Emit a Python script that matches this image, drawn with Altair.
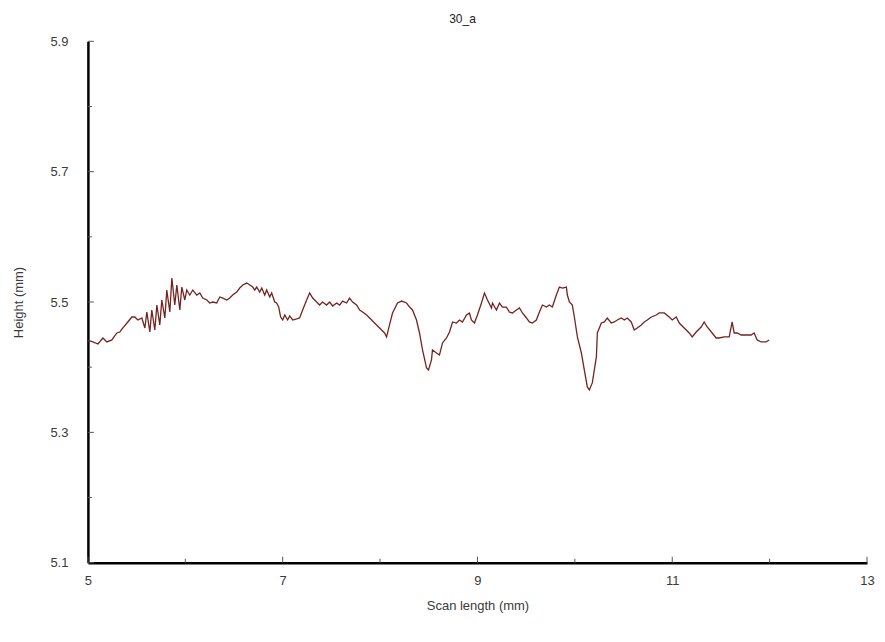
import altair as alt
import pandas as pd

scan_mm = [
    5.000, 5.021, 5.051, 5.103, 5.154, 5.195, 5.246, 5.297, 5.328, 5.359,
    5.410, 5.451, 5.482, 5.513, 5.554, 5.585, 5.605, 5.636, 5.656, 5.687,
    5.708, 5.738, 5.759, 5.790, 5.810, 5.841, 5.862, 5.892, 5.913, 5.944,
    5.964, 5.995, 6.015, 6.046, 6.077, 6.118, 6.149, 6.179, 6.221, 6.251,
    6.282, 6.323, 6.354, 6.385, 6.426, 6.456, 6.487, 6.528, 6.559, 6.590,
    6.631, 6.662, 6.692, 6.713, 6.733, 6.764, 6.785, 6.815, 6.836, 6.867,
    6.887, 6.918, 6.938, 6.959, 6.979, 7.000, 7.021, 7.051, 7.072, 7.103,
    7.144, 7.174, 7.205, 7.246, 7.277, 7.308, 7.349, 7.379, 7.410, 7.451,
    7.482, 7.513, 7.554, 7.585, 7.615, 7.656, 7.687, 7.718, 7.759, 7.790,
    7.821, 7.862, 7.913, 7.944, 7.995, 8.046, 8.067, 8.097, 8.128, 8.179,
    8.221, 8.272, 8.303, 8.333, 8.374, 8.405, 8.436, 8.477, 8.497, 8.528,
    8.538, 8.579, 8.610, 8.641, 8.682, 8.713, 8.744, 8.785, 8.815, 8.846,
    8.887, 8.918, 8.938, 8.969, 9.000, 9.041, 9.072, 9.103, 9.144, 9.154,
    9.195, 9.226, 9.256, 9.297, 9.328, 9.359, 9.400, 9.431, 9.462, 9.503,
    9.533, 9.564, 9.605, 9.636, 9.667, 9.708, 9.738, 9.769, 9.810, 9.841,
    9.872, 9.913, 9.923, 9.944, 9.974, 9.995, 10.026, 10.067, 10.097, 10.128,
    10.149, 10.179, 10.221, 10.231, 10.272, 10.303, 10.333, 10.374, 10.405, 10.436,
    10.477, 10.508, 10.538, 10.579, 10.610, 10.641, 10.682, 10.713, 10.744, 10.785,
    10.836, 10.867, 10.918, 10.969, 11.000, 11.041, 11.072, 11.123, 11.174, 11.205,
    11.246, 11.297, 11.328, 11.359, 11.410, 11.451, 11.482, 11.533, 11.585, 11.615,
    11.636, 11.667, 11.708, 11.759, 11.810, 11.841, 11.872, 11.913, 11.964, 11.995,
]

height_mm = [
    5.4402, 5.4402, 5.4387, 5.4356, 5.4448, 5.4387, 5.4418, 5.4525, 5.4540, 5.4602,
    5.4694, 5.4770, 5.4770, 5.4724, 5.4755, 5.4602, 5.4847, 5.4540, 5.4878, 5.4571,
    5.4954, 5.4648, 5.5031, 5.4755, 5.5184, 5.4847, 5.5368, 5.4954, 5.5261, 5.4878,
    5.5230, 5.5031, 5.5184, 5.5107, 5.5184, 5.5107, 5.5138, 5.5061, 5.5031, 5.4985,
    5.5000, 5.4985, 5.5077, 5.5061, 5.5031, 5.5061, 5.5107, 5.5153, 5.5215, 5.5261,
    5.5291, 5.5261, 5.5230, 5.5184, 5.5230, 5.5153, 5.5215, 5.5107, 5.5184, 5.5077,
    5.5138, 5.5000, 5.4985, 5.4923, 5.4770, 5.4724, 5.4801, 5.4724, 5.4786, 5.4724,
    5.4740, 5.4755, 5.4878, 5.5031, 5.5138, 5.5061, 5.5000, 5.4954, 5.5000, 5.4954,
    5.5000, 5.4939, 5.4985, 5.4954, 5.5015, 5.4985, 5.5061, 5.5000, 5.4954, 5.4878,
    5.4847, 5.4801, 5.4724, 5.4678, 5.4602, 5.4525, 5.4464, 5.4648, 5.4832, 5.4985,
    5.5015, 5.4985, 5.4923, 5.4878, 5.4724, 5.4525, 5.4264, 5.3989, 5.3958, 5.4111,
    5.4264, 5.4218, 5.4188, 5.4372, 5.4448, 5.4540, 5.4694, 5.4678, 5.4724, 5.4694,
    5.4801, 5.4832, 5.4724, 5.4678, 5.4801, 5.4985, 5.5138, 5.5031, 5.4908, 5.4985,
    5.4878, 5.4985, 5.4923, 5.4923, 5.4847, 5.4832, 5.4878, 5.4908, 5.4832, 5.4755,
    5.4694, 5.4678, 5.4724, 5.4847, 5.4954, 5.4923, 5.4954, 5.4923, 5.5107, 5.5230,
    5.5215, 5.5230, 5.5107, 5.5000, 5.4954, 5.4770, 5.4464, 5.4218, 5.3958, 5.3697,
    5.3651, 5.3759, 5.4157, 5.4525, 5.4678, 5.4694, 5.4755, 5.4678, 5.4694, 5.4724,
    5.4755, 5.4724, 5.4755, 5.4694, 5.4571, 5.4602, 5.4648, 5.4694, 5.4724, 5.4770,
    5.4801, 5.4832, 5.4832, 5.4770, 5.4724, 5.4770, 5.4678, 5.4602, 5.4525, 5.4464,
    5.4540, 5.4617, 5.4694, 5.4617, 5.4525, 5.4448, 5.4448, 5.4464, 5.4464, 5.4694,
    5.4525, 5.4525, 5.4494, 5.4494, 5.4494, 5.4525, 5.4418, 5.4387, 5.4387, 5.4418,
]

x_major_ticks = [5, 7, 9, 11, 13]
x_minor_ticks = [6, 8, 10, 12]
y_major_ticks = [5.1, 5.3, 5.5, 5.7, 5.9]
y_minor_ticks = [5.2, 5.4, 5.6, 5.8]

FONT = "Liberation Sans"
W, H = 780, 522

df = pd.DataFrame({"x": scan_mm, "y": height_mm})

xscale = alt.Scale(domain=[5, 13], nice=False, zero=False)
yscale = alt.Scale(domain=[5.1, 5.9], nice=False, zero=False)

line = alt.Chart(df).mark_line(color="#74241f", strokeWidth=1.3).encode(
    x=alt.X("x:Q", scale=xscale,
            axis=alt.Axis(title="Scan length (mm)", values=x_major_ticks, format="d",
                          ticks=False, grid=False, domainColor="black", domainWidth=2.5,
                          labelFlush=False,
                          labelPadding=12, labelFontSize=13, labelColor="#3a3a3a",
                          titleFontSize=13, titleFontWeight="normal", titleColor="#3a3a3a",
                          titlePadding=12, labelFont=FONT, titleFont=FONT)),
    y=alt.Y("y:Q", scale=yscale,
            axis=alt.Axis(title="Height (mm)", values=y_major_ticks, format=".1f",
                          ticks=False, grid=False, domainColor="black", domainWidth=2.5,
                          labelFlush=False,
                          labelPadding=20, labelFontSize=13, labelColor="#3a3a3a",
                          titleFontSize=13, titleFontWeight="normal", titleColor="#3a3a3a",
                          titlePadding=24, labelFont=FONT, titleFont=FONT)),
)

xt_major = alt.Chart(pd.DataFrame({"t": x_major_ticks})).mark_rule(color="#555555", strokeWidth=1).encode(
    x=alt.X("t:Q", scale=xscale), y=alt.value(H), y2=alt.value(H - 6))
xt_minor = alt.Chart(pd.DataFrame({"t": x_minor_ticks})).mark_rule(color="#555555", strokeWidth=1).encode(
    x=alt.X("t:Q", scale=xscale), y=alt.value(H), y2=alt.value(H - 4))
yt_major = alt.Chart(pd.DataFrame({"t": y_major_ticks})).mark_rule(color="#555555", strokeWidth=1).encode(
    y=alt.Y("t:Q", scale=yscale), x=alt.value(0), x2=alt.value(6))
yt_minor = alt.Chart(pd.DataFrame({"t": y_minor_ticks})).mark_rule(color="#555555", strokeWidth=1).encode(
    y=alt.Y("t:Q", scale=yscale), x=alt.value(0), x2=alt.value(4))

chart = alt.layer(line, xt_major, xt_minor, yt_major, yt_minor).properties(
    width=W, height=H,
    background="white",
    title=alt.TitleParams("30_a", fontSize=12, fontWeight="normal", font=FONT,
                          color="#222222", dx=-15, offset=9),
    autosize=alt.AutoSizeParams(type="none"),
    padding={"left": 80, "top": 33, "right": 10, "bottom": 70},
).configure_view(stroke=None)

chart.save("out.html", embed_options={"renderer": "svg", "actions": False})
